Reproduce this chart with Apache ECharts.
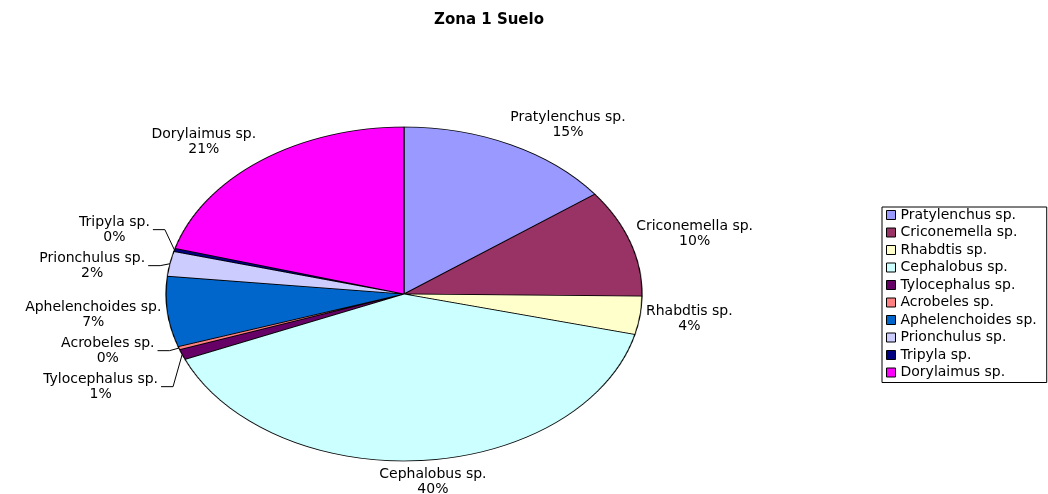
<!DOCTYPE html>
<html>
<head>
<meta charset="utf-8">
<script src="https://cdn.jsdelivr.net/npm/echarts@6.0.0/dist/echarts.min.js"></script>
<style>
	html, body { margin: 0; padding: 0; background: #fff; overflow: hidden; }
	/* the pie is drawn as a circle and stretched into the ellipse of the original */
	#pie { position: absolute; left: 0; top: 0; width: 1048px; height: 494px; transform-origin: 404px 294px; transform: scaleX(1.42515); }
	#chart { position: absolute; left: 0; top: 0; width: 1048px; height: 494px; }
</style>
</head>
<body>
<div id="pie"></div>
<div id="chart"></div>
<script>
var categories = ['Pratylenchus sp.', 'Criconemella sp.', 'Rhabdtis sp.', 'Cephalobus sp.', 'Tylocephalus sp.',
	'Acrobeles sp.', 'Aphelenchoides sp.', 'Prionchulus sp.', 'Tripyla sp.', 'Dorylaimus sp.'];
var values = [14.8, 10.4, 3.7, 39.7, 1.0, 0.3, 6.8, 2.4, 0.3, 20.6];
var colors = ['#9999FF', '#993366', '#FFFFCC', '#CCFFFF', '#660066',
	'#FF8080', '#0066CC', '#CCCCFF', '#000080', '#FF00FF'];
var title = 'Zona 1 Suelo';

var CX = 404, CY = 294, RY = 167, RX = 238;
var FONT = 'DejaVu Sans';
var FONT_SIZE = 14, LINE_H = 15, GAP = 36;

var total = 0;
for (var i = 0; i < values.length; i++) total += values[i];

var ctx = document.createElement('canvas').getContext('2d');
ctx.font = FONT_SIZE + 'px "' + FONT + '"';

function clamp(v) { return Math.max(-1, Math.min(1, v)); }

// label boxes placed round the ellipse, like the spreadsheet does
var labelPos = [];
var acc = 0;
for (var i = 0; i < values.length; i++) {
	var mid = (acc + values[i] / 2) / total * Math.PI * 2;
	acc += values[i];
	var ex = CX + RX * Math.sin(mid);
	var ey = CY - RY * Math.cos(mid);
	var len = Math.sqrt((ex - CX) * (ex - CX) + (ey - CY) * (ey - CY));
	var ux = (ex - CX) / len, uy = (ey - CY) / len;
	var small = values[i] / total < 0.03;
	var gap = small ? 25 : 6;
	var w = Math.max(ctx.measureText(categories[i]).width, ctx.measureText('100%').width);
	var h = LINE_H * 2;
	labelPos.push({
		ex: ex, ey: ey, w: w, small: small,
		x: ex + ux * gap + clamp(ux * 1.6) * w / 2,
		y0: ey + uy * gap + clamp(uy * 2.2) * h / 2,
		wt: small ? 1 : 100,
		left: ex < CX
	});
}

// push overlapping labels apart on each side
function spread(items) {
	items.sort(function (a, b) { return a.y0 - b.y0; });
	var clusters = items.map(function (it) { return { items: [it] }; });
	function place(c) {
		var s = 0, sw = 0;
		c.items.forEach(function (it, k) { s += (it.y0 - k * GAP) * it.wt; sw += it.wt; });
		c.top = s / sw;
	}
	clusters.forEach(place);
	var merged = true;
	while (merged) {
		merged = false;
		for (var k = 0; k < clusters.length - 1; k++) {
			var a = clusters[k], b = clusters[k + 1];
			if (a.top + a.items.length * GAP > b.top) {
				a.items = a.items.concat(b.items);
				place(a);
				clusters.splice(k + 1, 1);
				merged = true;
				break;
			}
		}
	}
	clusters.forEach(function (c) {
		c.items.forEach(function (it, k) { it.y = c.top + k * GAP; });
	});
}
spread(labelPos.filter(function (p) { return p.left; }));
spread(labelPos.filter(function (p) { return !p.left; }));

var pieData = [];
var labelData = [];
var legendData = [];
for (var i = 0; i < categories.length; i++) {
	pieData.push({ name: categories[i], value: values[i], itemStyle: { color: colors[i] } });
	labelData.push({ name: categories[i], value: values[i], labelLine: { show: labelPos[i].small } });
	legendData.push({ name: categories[i], itemStyle: { color: colors[i] } });
}

//饼图本体（拉伸成椭圆）
var pieChart = echarts.init(document.getElementById('pie'), null, { devicePixelRatio: 2 });
pieChart.setOption({
	animation: false,
	series: [{
		type: 'pie',
		center: [CX, CY],
		radius: RY,
		startAngle: 90,
		silent: true,
		label: { show: false },
		labelLine: { show: false },
		itemStyle: { borderColor: '#000', borderWidth: 0.8 },
		data: pieData
	}]
});

//标题、图例、标签
ctx.font = 'bold 15px "' + FONT + '"';
var titleW = ctx.measureText(title).width;

var chartObj = echarts.init(document.getElementById('chart'));
chartObj.setOption({
	animation: false,
	title: {
		text: title,
		left: 489 - titleW / 2,
		top: 13,
		padding: 0,
		textStyle: { fontFamily: FONT, fontSize: 15, fontWeight: 'bold', color: '#000' }
	},
	legend: {
		orient: 'vertical',
		left: 882,
		top: 207,
		padding: [1, 10, 3, 4],
		itemWidth: 9,
		itemHeight: 9,
		itemGap: 3.5,
		icon: 'rect',
		selectedMode: false,
		borderColor: '#000',
		borderWidth: 1,
		itemStyle: { borderColor: '#000', borderWidth: 1 },
		textStyle: { fontFamily: FONT, fontSize: FONT_SIZE, color: '#000' },
		data: legendData
	},
	series: [{
		type: 'pie',
		center: [CX, CY],
		radius: RY,
		startAngle: 90,
		silent: true,
		itemStyle: { color: 'rgba(0,0,0,0)', borderWidth: 0 },
		label: {
			show: true,
			position: 'outside',
			fontFamily: FONT,
			fontSize: FONT_SIZE,
			lineHeight: LINE_H,
			color: '#000',
			formatter: function (p) { return p.name + '\n' + Math.round(p.percent) + '%'; }
		},
		labelLine: { show: true, lineStyle: { color: '#000', width: 1 } },
		labelLayout: function (p) {
			var L = labelPos[p.dataIndex];
			var out = { x: L.x, y: L.y, align: 'center', verticalAlign: 'middle' };
			if (L.small) {
				var side = L.left ? 1 : -1;
				var edge = L.x + side * L.w / 2;
				out.labelLinePoints = [[L.ex, L.ey], [edge + side * 15, L.y], [edge + side * 3, L.y]];
			}
			return out;
		},
		data: labelData
	}]
});
</script>
</body>
</html>
